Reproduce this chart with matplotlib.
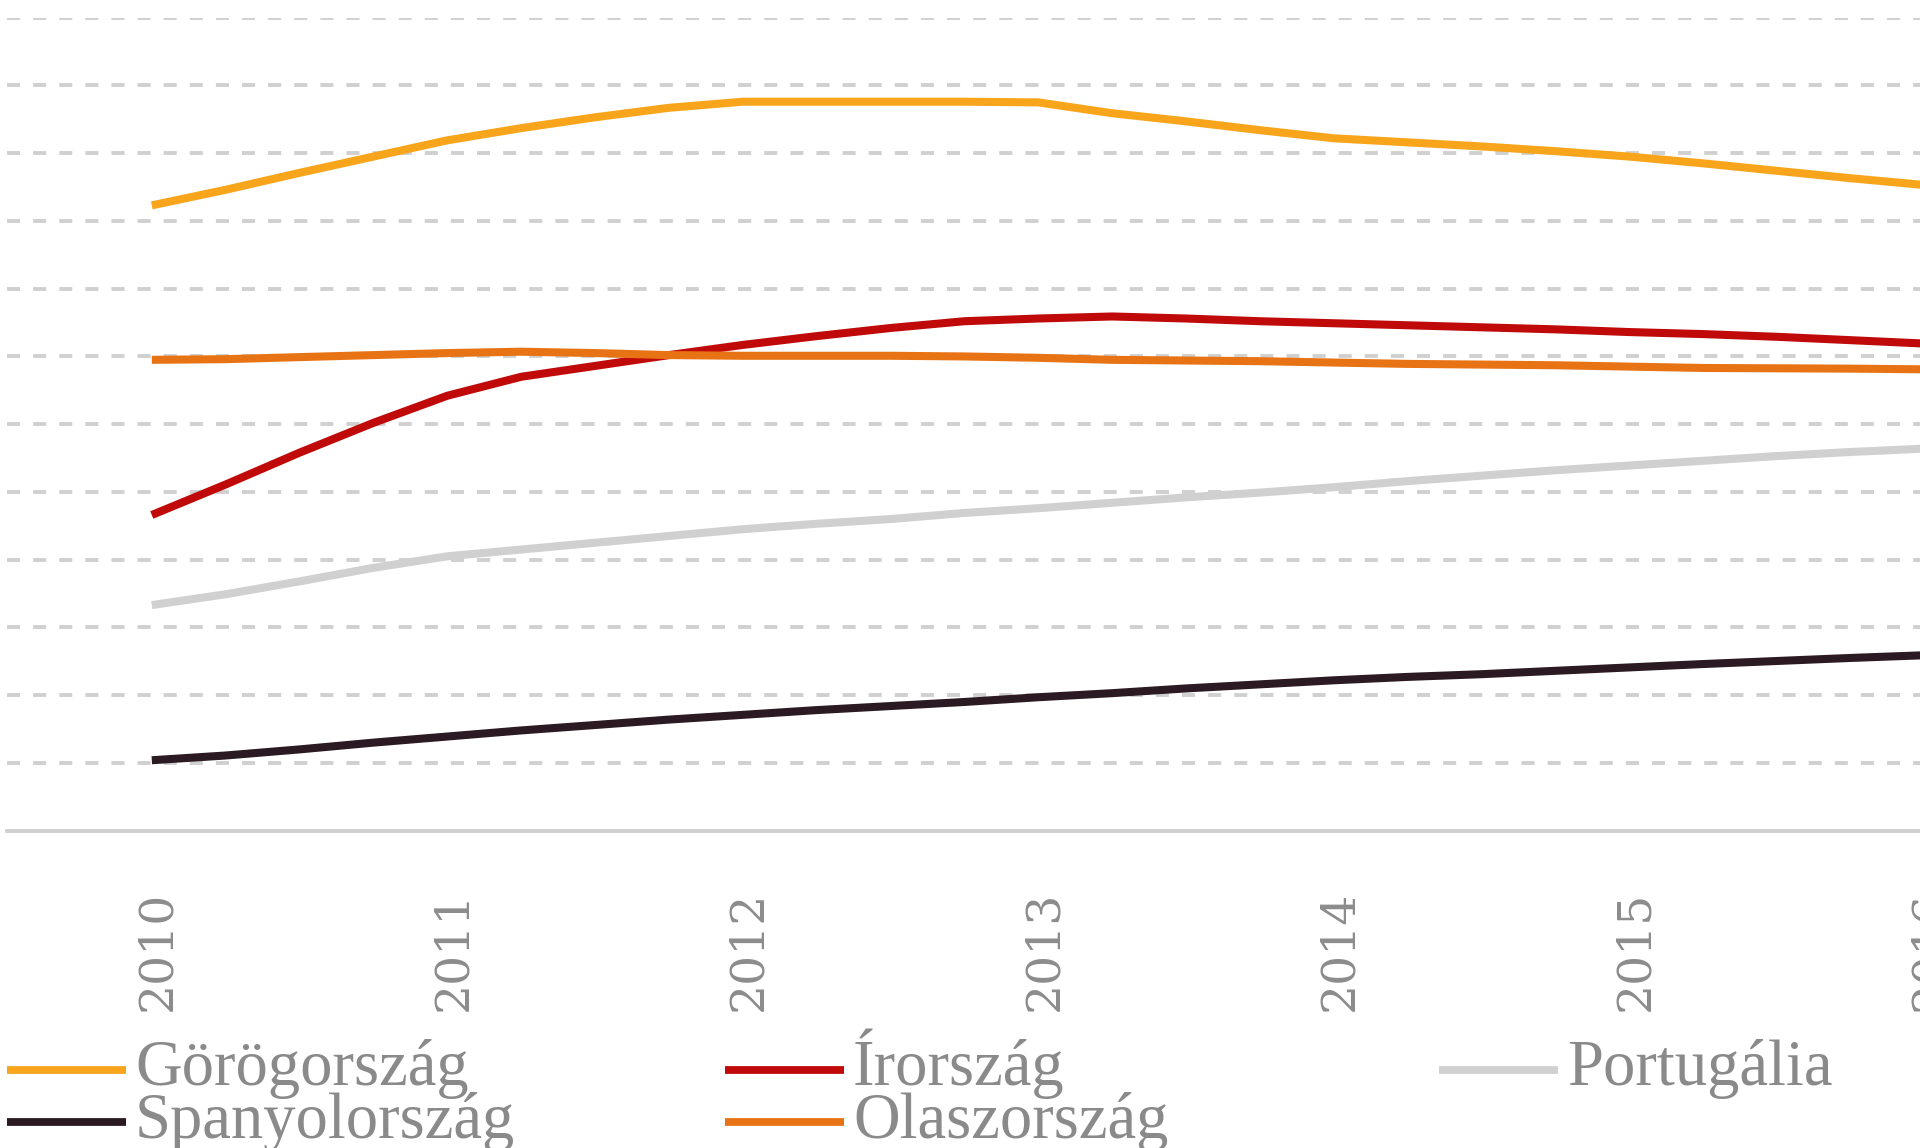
import matplotlib
matplotlib.use("Agg")
import matplotlib.pyplot as plt
from matplotlib.lines import Line2D
from matplotlib.transforms import ScaledTranslation

# ---- data (y units arbitrary, grid step = 10) ----
years = [2010.00, 2010.25, 2010.50, 2010.75, 2011.00, 2011.25, 2011.50, 2011.75,
         2012.00, 2012.25, 2012.50, 2012.75, 2013.00, 2013.25, 2013.50, 2013.75,
         2014.00, 2014.25, 2014.50, 2014.75, 2015.00, 2015.25, 2015.50, 2015.75,
         2016.00]

greece = [142.3, 144.6, 147.1, 149.5, 151.9, 153.7, 155.3, 156.7,
          157.6, 157.6, 157.6, 157.6, 157.5, 155.9, 154.7, 153.4,
          152.2, 151.6, 151.0, 150.3, 149.5, 148.5, 147.4, 146.3,
          145.3]
ireland = [96.6, 101.1, 105.8, 110.2, 114.2, 117.0, 118.6, 120.2,
           121.7, 123.0, 124.2, 125.2, 125.6, 125.9, 125.6, 125.2,
           124.9, 124.6, 124.3, 124.0, 123.6, 123.3, 122.9, 122.4,
           121.9]
portugal = [83.3, 84.9, 86.8, 88.8, 90.5, 91.5, 92.5, 93.5,
            94.5, 95.3, 96.0, 96.9, 97.6, 98.4, 99.2, 99.9,
            100.7, 101.6, 102.4, 103.2, 103.9, 104.6, 105.3, 105.9,
            106.4]
spain = [60.4, 61.1, 62.0, 63.0, 63.9, 64.8, 65.6, 66.4,
         67.1, 67.8, 68.4, 69.0, 69.7, 70.3, 71.0, 71.6,
         72.2, 72.7, 73.1, 73.6, 74.1, 74.6, 75.05, 75.5,
         75.9]
italy = [119.5, 119.6, 119.9, 120.2, 120.5, 120.7, 120.5, 120.2,
         120.1, 120.1, 120.1, 120.0, 119.8, 119.5, 119.4, 119.3,
         119.1, 118.9, 118.8, 118.7, 118.5, 118.3, 118.25, 118.2,
         118.1]

series_names = ["Görögország", "Írország", "Portugália", "Spanyolország", "Olaszország"]
series_values = [greece, ireland, portugal, spain, italy]
series_colors = ["#F8A51C", "#C00909", "#D0D0D0", "#2B1A21", "#E87315"]

xtick_values = [2010, 2011, 2012, 2013, 2014, 2015, 2016]
xtick_labels = ["2010", "2011", "2012", "2013", "2014", "2015", "2016"]
ygrid_values = [60, 70, 80, 90, 100, 110, 120, 130, 140, 150, 160, 170]

# ---- figure ----
plt.rcParams["lines.scale_dashes"] = False
W, H = 1920, 1148
fig = plt.figure(figsize=(W / 100, H / 100), dpi=100)

px_per_year = 295.5
x_left_year = 2009.51
x_right_year = 2016.5
ax_left_px = 7
ax_bottom_px = 830.7
ax_top_px = 17.7
ax = fig.add_axes([ax_left_px / W, (H - ax_bottom_px) / H,
                   (x_right_year - x_left_year) * px_per_year / W,
                   (ax_bottom_px - ax_top_px) / H])
ax.set_xlim(x_left_year, x_right_year)
ax.set_ylim(50, 170)

grey = "#D0D0D0"
for s in ["top", "right", "left"]:
    ax.spines[s].set_visible(False)
ax.spines["bottom"].set_color(grey)
ax.spines["bottom"].set_linewidth(2.8)
ax.spines["bottom"].set_zorder(1)

ax.set_yticks(ygrid_values)
ax.tick_params(axis="y", left=False, labelleft=False)
ax.yaxis.grid(True, color=grey, linewidth=2.8, dashes=(9.4, 9.4))
ax.xaxis.grid(False)
ax.set_axisbelow(True)

ax.set_xticks(xtick_values)
ax.set_xticklabels(xtick_labels, rotation=90, fontfamily="DejaVu Serif",
                   fontsize=34, color="#8C8C8C")
ax.tick_params(axis="x", length=0, pad=43)
shift = ScaledTranslation(6 / 100, 0, fig.dpi_scale_trans)
for lab in ax.get_xticklabels():
    lab.set_transform(lab.get_transform() + shift)

for name, vals, col in zip(series_names, series_values, series_colors):
    ax.plot(years, vals, color=col, linewidth=5.8, solid_capstyle="butt",
            solid_joinstyle="round", zorder=3, clip_on=True)

# ---- legend (row-major, 3 columns) ----
col_x0 = [7, 725, 1439]
row_line_y = [1069.5, 1121.5]
row_base_y = [1085, 1138]
handle_len = 119
for i, (name, col) in enumerate(zip(series_names, series_colors)):
    r, c = divmod(i, 3)
    x0 = col_x0[c]
    yl = H - row_line_y[r]
    fig.add_artist(Line2D([x0 / W, (x0 + handle_len) / W], [yl / H, yl / H],
                          color=col, linewidth=5.6, solid_capstyle="butt",
                          transform=fig.transFigure))
    fig.text((x0 + handle_len + 9) / W, (H - row_base_y[r]) / H, name,
             fontfamily="Liberation Serif", fontsize=46.5, color="#8A8A8A",
             ha="left", va="baseline")

fig.savefig("out.png", dpi=100)
